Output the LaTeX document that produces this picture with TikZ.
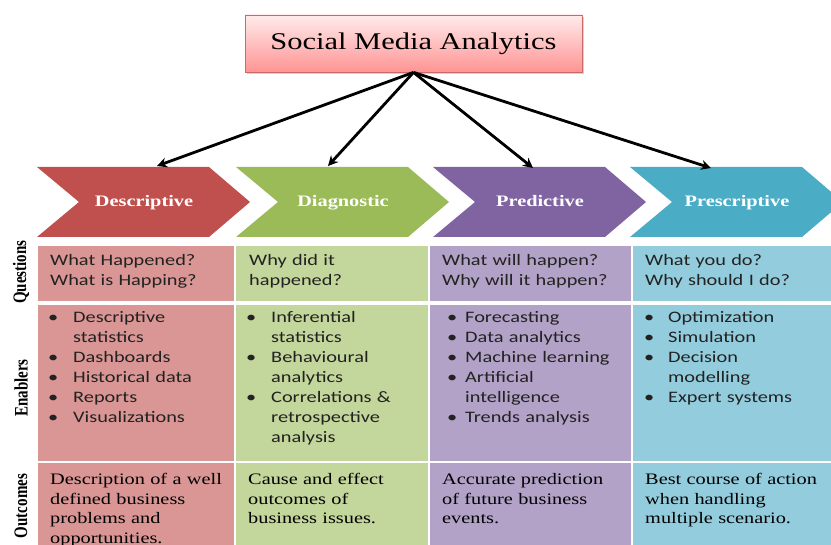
\documentclass[tikz,border=0pt]{standalone}
\usepackage{fontspec}
\setmainfont[FakeStretch=1.27]{Liberation Serif}
\newfontfamily\calfont[FakeStretch=1.27]{Carlito}
\newfontfamily\lblfont{Liberation Serif}
\usetikzlibrary{arrows.meta,shadows}
\definecolor{cdes}{HTML}{C0504D}
\definecolor{cdia}{HTML}{9BBB59}
\definecolor{cpre}{HTML}{8064A2}
\definecolor{cpsc}{HTML}{4BACC6}
\definecolor{ldes}{HTML}{D99694}
\definecolor{ldia}{HTML}{C3D69B}
\definecolor{lpre}{HTML}{B3A2C7}
\definecolor{lpsc}{HTML}{93CDDD}
\definecolor{txt}{HTML}{222222}
\newcommand\bul[1]{\leavevmode\llap{\textbullet\hspace{#1pt}}}
\begin{document}
\begin{tikzpicture}[x=1pt,y=-1pt,
  chevlabel/.style={anchor=base,text=white,font=\bfseries\fontsize{16}{19}\selectfont},
  celltext/.style={anchor=base west,inner sep=0pt,text width=185pt,align=left,text=txt,font=\calfont\fontsize{16}{20}\selectfont},
  outtext/.style={anchor=base west,inner sep=0pt,text width=185pt,align=left,text=black,font=\fontsize{16}{19.5}\selectfont},
  rowlabel/.style={rotate=90,inner sep=0pt,font=\lblfont\bfseries\fontsize{15}{18}\selectfont},
  conn/.style={line width=2.8pt,-{Stealth[length=10pt,width=10pt]}},
]
\path[use as bounding box] (0,0) rectangle (831,545);
\clip (0,0) rectangle (831,545);
\fill[white] (0,0) rectangle (831,545);

% title
\node[draw=cdes!85,line width=0.8pt,top color=red!8,bottom color=red!42,minimum width=337pt,minimum height=57pt,inner sep=0pt,
  drop shadow={shadow xshift=2pt,shadow yshift=-2pt,opacity=0.35},font=\fontsize{24}{28}\selectfont]
  (title) at (413.5,43.5) {Social Media Analytics};

% chevrons
\foreach \lx/\col in {37/cdes,236/cdia,433/cpre,630/cpsc}{
  \fill[\col] (\lx,167) -- ({\lx+172},167) -- ({\lx+213},202) -- ({\lx+172},237) -- (\lx,237) -- ({\lx+42},202) -- cycle;
}
\node[chevlabel] (ch1) at (144,207) {Descriptive};
\node[chevlabel] (ch2) at (343,207) {Diagnostic};
\node[chevlabel] (ch3) at (540,207) {Predictive};
\node[chevlabel] (ch4) at (737,207) {Prescriptive};

% arrow targets
\coordinate (t1) at (157,166);
\coordinate (t2) at (328,166);
\coordinate (t3) at (533,168);
\coordinate (t4) at (711,168);
\foreach \t in {t1,t2,t3,t4}{\draw[conn] (title.south) -- (\t);}

% cells
\foreach \l/\r/\col in {38/234/ldes,236/428/ldia,430/631/lpre,633/850/lpsc}{
  \fill[\col] (\l,246) rectangle (\r,301);
  \fill[\col] (\l,305) rectangle (\r,461);
  \fill[\col] (\l,463) rectangle (\r,560);
}

% row labels
\node[rowlabel] (rq) at (21,272) {\scalebox{1}[1.27]{Questions}};
\node[rowlabel] (re) at (21,388) {\scalebox{1}[1.27]{Enablers}};
\node[rowlabel] (ro) at (21,506) {\scalebox{1}[1.27]{Outcomes}};

% questions
\node[celltext] (q1) at (50,266) {What Happened?\\What is Happing?};
\node[celltext] (q2) at (249,266) {Why did it\\happened?};
\node[celltext] (q3) at (442,266) {What will happen?\\Why will it happen?};
\node[celltext] (q4) at (645,266) {What you do?\\Why should I do?};

% enablers
\node[celltext] (e1) at (73,323) {\bul{15}Descriptive\\statistics\\\bul{15}Dashboards\\\bul{15}Historical data\\\bul{15}Reports\\\bul{15}Visualizations};
\node[celltext] (e2) at (271,323) {\bul{15}Inferential\\statistics\\\bul{15}Behavioural\\analytics\\\bul{15}Correlations \&\\retrospective\\analysis};
\node[celltext] (e3) at (465,323) {\bul{8}Forecasting\\\bul{8}Data analytics\\\bul{8}Machine learning\\\bul{8}Artificial\\intelligence\\\bul{8}Trends analysis};
\node[celltext] (e4) at (668,323) {\bul{14}Optimization\\\bul{14}Simulation\\\bul{14}Decision\\modelling\\\bul{14}Expert systems};

% outcomes
\node[outtext] (o1) at (50,485) {Description of a well\\defined business\\problems and\\opportunities.};
\node[outtext] (o2) at (248,485) {Cause and effect\\outcomes of\\business issues.};
\node[outtext] (o3) at (442,485) {Accurate prediction\\of future business\\events.};
\node[outtext] (o4) at (645,485) {Best course of action\\when handling\\multiple scenario.};
\end{tikzpicture}
\end{document}
